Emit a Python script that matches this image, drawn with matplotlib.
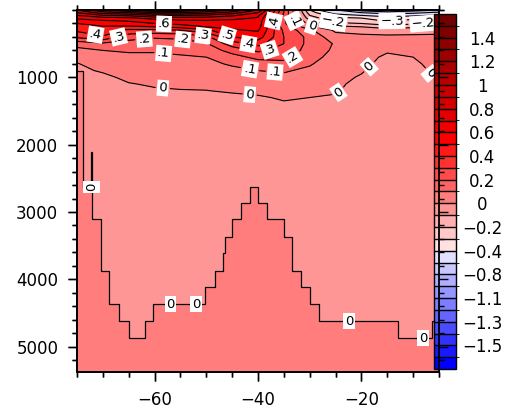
import numpy as np
import matplotlib
matplotlib.use("Agg")
import matplotlib.pyplot as plt
from matplotlib.colors import ListedColormap, BoundaryNorm
from matplotlib.ticker import MultipleLocator, FixedLocator

# ---------------- data ----------------
lat = [-75, -70, -65, -60, -55, -50, -45, -40, -35, -30, -25, -20, -15, -10, -5]
depth = [0, 40, 80, 120, 160, 200, 250, 300, 400, 500, 600, 700, 800, 900,
         1000, 1100, 1200, 1300, 1500, 2500, 5400]

# streamfunction profiles, one list per latitude column (top -> bottom)
psi_m75 = [0.9, 0.8, 0.7, 0.62, 0.56, 0.5, 0.46, 0.42, 0.32, 0.14, 0.07, 0.035, -0.005, -0.02, -0.03, -0.03, -0.03, -0.03, -0.04, -0.04, -0.04]
psi_m70 = [1.1, 0.95, 0.8, 0.66, 0.59, 0.54, 0.49, 0.46, 0.39, 0.18, 0.1, 0.07, 0.04, 0.01, -0.02, -0.03, -0.04, -0.04, -0.04, -0.04, -0.04]
psi_m65 = [1.2, 1.0, 0.82, 0.68, 0.61, 0.56, 0.48, 0.38, 0.24, 0.16, 0.11, 0.08, 0.06, 0.04, 0.02, -0.005, -0.03, -0.04, -0.04, -0.04, -0.04]
psi_m60 = [1.3, 1.1, 0.9, 0.74, 0.65, 0.6, 0.5, 0.38, 0.21, 0.16, 0.11, 0.08, 0.06, 0.04, 0.025, 0.01, -0.01, -0.03, -0.04, -0.04, -0.04]
psi_m55 = [1.3, 1.1, 0.9, 0.76, 0.68, 0.63, 0.54, 0.4, 0.22, 0.16, 0.12, 0.09, 0.07, 0.05, 0.035, 0.02, -0.005, -0.02, -0.04, -0.04, -0.04]
psi_m50 = [1.2, 1.05, 0.88, 0.76, 0.69, 0.65, 0.6, 0.48, 0.27, 0.19, 0.14, 0.1, 0.08, 0.06, 0.04, 0.02, -0.002, -0.02, -0.04, -0.04, -0.04]
psi_m45 = [1.1, 0.95, 0.82, 0.73, 0.68, 0.65, 0.62, 0.59, 0.5, 0.35, 0.24, 0.16, 0.11, 0.08, 0.06, 0.035, 0.01, -0.02, -0.04, -0.04, -0.04]
psi_m40 = [0.9, 0.8, 0.72, 0.69, 0.67, 0.66, 0.64, 0.61, 0.55, 0.44, 0.32, 0.23, 0.15, 0.1, 0.07, 0.045, 0.02, -0.01, -0.03, -0.04, -0.04]
psi_m35 = [0.3, 0.3, 0.28, 0.25, 0.22, 0.22, 0.25, 0.28, 0.3, 0.3, 0.27, 0.23, 0.17, 0.11, 0.08, 0.05, 0.03, 0.01, -0.03, -0.04, -0.04]
psi_m30 = [-0.3, -0.25, -0.2, -0.15, -0.08, -0.03, 0.02, 0.12, 0.17, 0.17, 0.16, 0.14, 0.11, 0.08, 0.06, 0.04, 0.02, 0.0, -0.03, -0.04, -0.04]
psi_m25 = [-0.6, -0.45, -0.35, -0.28, -0.24, -0.18, -0.07, -0.02, 0.04, 0.09, 0.08, 0.06, 0.04, 0.025, 0.015, 0.01, 0.005, -0.005, -0.03, -0.04, -0.04]
psi_m20 = [-0.9, -0.6, -0.4, -0.3, -0.26, -0.2, -0.1, -0.03, 0.02, 0.04, 0.04, 0.03, 0.015, 0.005, -0.005, -0.015, -0.02, -0.03, -0.04, -0.04, -0.04]
psi_m15 = [-1.0, -0.7, -0.45, -0.35, -0.31, -0.25, -0.15, -0.05, 0.02, 0.03, 0.01, -0.015, -0.02, -0.03, -0.035, -0.04, -0.04, -0.04, -0.04, -0.04, -0.04]
psi_m10 = [-0.9, -0.65, -0.42, -0.32, -0.28, -0.22, -0.12, -0.04, 0.02, 0.03, 0.025, 0.0, -0.01, -0.02, -0.03, -0.035, -0.04, -0.04, -0.04, -0.04, -0.04]
psi_m5 = [-0.8, -0.55, -0.38, -0.28, -0.22, -0.17, -0.1, -0.03, 0.02, 0.03, 0.03, 0.025, 0.02, 0.015, 0.008, 0.002, -0.005, -0.01, -0.03, -0.04, -0.04]

# bathymetry (stair edges in latitude, bottom depth of each column)
bathy_edges = [-75.0, -73.78, -72.20, -72.14, -70.36, -68.75, -66.82, -65.02, -61.92,
               -60.25, -50.20, -48.33, -46.72, -46.40, -44.98, -43.37, -41.63, -40.09,
               -38.22, -35.06, -33.39, -31.59, -29.98, -28.17, -12.91, -6.33, -5.0]
bathy_depth = [910, 2628, 2110, 3111, 3874, 4368, 4620, 4877, 4620, 4368, 4111, 3874,
               3616, 3369, 3111, 2874, 2628, 2874, 3111, 3369, 3874, 4111, 4368, 4620,
               4877, 4620]

levels = [-1.6, -1.5, -1.4, -1.3, -1.2, -1.1, -1.0, -0.8, -0.6, -0.4, -0.3, -0.2, -0.1,
          0.0, 0.1, 0.2, 0.3, 0.4, 0.5, 0.6, 0.7, 0.8, 0.9, 1.0, 1.1, 1.2, 1.3, 1.4, 1.5]
cbar_ticks = [1.4, 1.2, 1.0, 0.8, 0.6, 0.4, 0.2, 0.0, -0.2, -0.4, -0.8, -1.1, -1.3, -1.5]
cbar_labels = ["1.4", "1.2", "1", "0.8", "0.6", "0.4", "0.2", "0",
               "\u22120.2", "\u22120.4", "\u22120.8", "\u22121.1", "\u22121.3", "\u22121.5"]
ytick_vals = [1000, 2000, 3000, 4000, 5000]
xtick_vals = [-60, -40, -20]
xtick_labels = ["\u221260", "\u221240", "\u221220"]

# contour labels: (level, lat, depth)
label_specs = [(0.4, -71.5, 400), (0.3, -67.1, 360), (0.6, -58.2, 215), (0.2, -62, 410),
               (0.2, -54.5, 425), (0.3, -50.6, 360), (0.1, -58.2, 600), (0.5, -46, 390),
               (0.4, -38.1, 155), (0.1, -33.6, 170), (0.0, -29.6, 240), (-0.2, -25.5, 185),
               (-0.3, -14.1, 155), (-0.2, -8.1, 155), (0.4, -42, 555), (0.3, -37.7, 600),
               (0.2, -33, 745), (0.1, -41.6, 910), (0.1, -36.7, 910),
               (0.0, -58.4, 1150), (0.0, -41.6, 1250), (0.0, -23.8, 1300),
               (0.0, -18.4, 850), (0.0, -8.3, 1045)]
bathy_label_pos = [(-72.2, 2628, 90), (-56.9, 4368, 0), (-52.0, 4368, 0),
                   (-22.4, 4620, 0), (-8.1, 4877, 0)]

# ---------------- style ----------------
box_colors = [
    "#0000ff", "#1919ff", "#3232ff", "#4b4bff", "#6464ff", "#7d7dff", "#9696ff",
    "#afafff", "#c8c8ff", "#e1e1ff",
    "#ffe1e1", "#ffc8c8", "#ffafaf", "#ff9696", "#ff7d7d", "#ff6464", "#ff4b4b",
    "#ff3232", "#ff1919", "#ff0000",
    "#f00000", "#e20000", "#d40000", "#c60000", "#b80000", "#aa0000", "#9c0000",
    "#8e0000", "#800000", "#720000"]
cmap = ListedColormap(box_colors[1:-1])
cmap.set_under(box_colors[0])
cmap.set_over(box_colors[-1])
norm = BoundaryNorm(levels, cmap.N)

plt.rcParams['font.family'] = ['DejaVu Sans']
W, H = 509, 415
fig = plt.figure(figsize=(W / 100, H / 100), dpi=100)


def fpos(x0, x1, y0, y1):
    return [x0 / W, 1 - y1 / H, (x1 - x0) / W, (y1 - y0) / H]

ax_pos = fpos(77, 439, 10, 372)
ax = fig.add_axes(ax_pos, zorder=1)
cax = fig.add_axes(fpos(434, 456, 14, 369), zorder=2)
axf = fig.add_axes(ax_pos, zorder=3)

Z = np.array([psi_m75, psi_m70, psi_m65, psi_m60, psi_m55, psi_m50, psi_m45, psi_m40,
              psi_m35, psi_m30, psi_m25, psi_m20, psi_m15, psi_m10, psi_m5]).T

xlim = (-75, -5)
ylim = (5377, 0)
for a in (ax, axf):
    a.set_xlim(*xlim)
    a.set_ylim(*ylim)
    a.xaxis.set_major_locator(FixedLocator(xtick_vals))
    a.xaxis.set_minor_locator(MultipleLocator(5))
    a.yaxis.set_major_locator(FixedLocator(ytick_vals))
    a.yaxis.set_minor_locator(MultipleLocator(200))
    a.tick_params(which='both', direction='out', top=True, right=True, width=1)
    a.tick_params(which='major', length=6.5)
    a.tick_params(which='minor', length=3.5)
    for s in a.spines.values():
        s.set_linewidth(1.3)

cf = ax.contourf(lat, depth, Z, levels=levels, cmap=cmap, norm=norm, extend='both', zorder=1)
land_color = cmap(norm(0.05))
ax.stairs(bathy_depth, bathy_edges, baseline=5600, fill=True, color=land_color, zorder=2)
ax.stairs(bathy_depth, bathy_edges, baseline=None, color='k', linewidth=0.9, zorder=3)


def fmt(v):
    if abs(v) < 1e-9:
        return "0"
    s = f"{v:.1f}"
    if abs(v) < 1:
        s = s.replace("0.", ".", 1)
    return s.replace("-", "\u2212")

zmin, zmax = Z.min(), Z.max()
label_texts = []
for lev in levels:
    if not (zmin < lev < zmax) and abs(lev - zmin) > 1e-9:
        continue
    cs_l = ax.contour(lat, depth, Z, levels=[lev], colors='k', linewidths=0.8,
                      linestyles='solid', negative_linestyles='solid', zorder=3)
    pts = [(x, y) for (l, x, y) in label_specs if abs(l - lev) < 1e-6]
    if pts:
        txts = ax.clabel(cs_l, manual=pts, inline=True, fmt=fmt, fontsize=9.5,
                         inline_spacing=3)
        label_texts.extend(txts)

for t in label_texts:
    t.set_bbox(dict(boxstyle='square,pad=0.12', fc='white', ec='none'))
    t.set_zorder(5)

for (x, y, r) in bathy_label_pos:
    ax.text(x, y, "0", ha='center', va='center', fontsize=9.5, rotation=r, zorder=5,
            bbox=dict(boxstyle='square,pad=0.12', fc='white', ec='none'))

ax.tick_params(labelsize=12, pad=7)
ax.set_xticklabels(xtick_labels)
axf.patch.set_alpha(0)
axf.tick_params(labelleft=False, labelbottom=False)

cb = fig.colorbar(cf, cax=cax, ticks=cbar_ticks, drawedges=True, extendrect=True,
                  extendfrac=1 / 28, spacing='uniform')
cb.ax.set_yticklabels(cbar_labels)
cb.ax.tick_params(length=0, pad=19, labelsize=12)
for t in cb.ax.get_yticklabels():
    t.set_ha('center')
cb.outline.set_linewidth(1.0)
cb.dividers.set_linewidth(1.0)
cb.dividers.set_color('k')

fig.savefig("out.png", dpi=100)
